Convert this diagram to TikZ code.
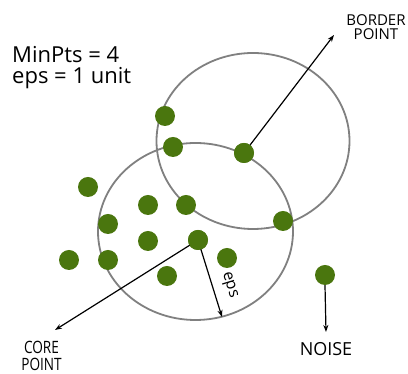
\documentclass[tikz,border=0pt]{standalone}
\usepackage{fontspec}
\setmainfont{Open Sans}
\usetikzlibrary{arrows.meta}
\definecolor{dotgreen}{RGB}{74,118,14}
\definecolor{ringgray}{RGB}{128,128,128}
\begin{document}
\begin{tikzpicture}[x=1pt,y=1pt,
  pt/.style={circle,fill=dotgreen,minimum size=20pt,inner sep=0pt},
  ring/.style={draw=ringgray,line width=1.8pt},
  pointer/.style={draw=black,line width=1.2pt,-{Stealth[length=7pt,width=5pt]}},
  caption/.style={inner sep=0pt,align=center}]
\useasboundingbox[fill=white] (0,0) rectangle (408,374);

% eps-neighbourhoods
\draw[ring] (253,233) ellipse [x radius=96.5, y radius=88];
\draw[ring] (195.5,142.5) ellipse [x radius=97.5, y radius=88.5];

% data points
\node[pt] (p1)  at (165,258) {};
\node[pt] (p2)  at (173,227) {};
\node[pt] (bp)  at (244,221) {};
\node[pt] (p4)  at (88,187) {};
\node[pt] (p5)  at (148,169) {};
\node[pt] (p6)  at (186,169) {};
\node[pt] (p7)  at (108,150) {};
\node[pt] (p8)  at (148,133) {};
\node[pt] (cp)  at (198,134) {};
\node[pt] (p10) at (69,114) {};
\node[pt] (p11) at (108,114) {};
\node[pt] (p12) at (167,98) {};
\node[pt] (p13) at (227,116) {};
\node[pt] (p14) at (283,153) {};
\node[pt] (np)  at (325,99) {};

% parameters
\node[inner sep=0pt,anchor=north west,align=left,font=\fontsize{22}{21.5}\selectfont]
  (params) at (12,328) {MinPts = 4\\eps = 1 unit};

% captions
\node[caption,font=\fontsize{15}{14}\selectfont] (btxt) at (376,347) {BORDER\\POINT};
\node[caption,font=\fontsize{17}{17}\selectfont,xscale=0.8] (ctxt) at (41.5,18) {CORE\\POINT};
\node[caption,font=\fontsize{18}{18}\selectfont] (ntxt) at (326,25) {NOISE};

% arrow ends
\coordinate (btip) at (334,339);
\coordinate (ctip) at (55,44);
\coordinate (ntip) at (326,42);
\coordinate (etip) at (222,57);

\draw[pointer] (bp.center) -- (btip);
\draw[pointer] (cp.center) -- (ctip);
\draw[pointer] (np.south) -- (ntip);
\draw[pointer] (cp.center) -- (etip);
\node[inner sep=0pt,rotate=-73,font=\fontsize{16}{16}\selectfont] (eps) at (229,89) {eps};
\node[pt] at (cp) {};
\node[pt] at (bp) {};
\end{tikzpicture}
\end{document}
